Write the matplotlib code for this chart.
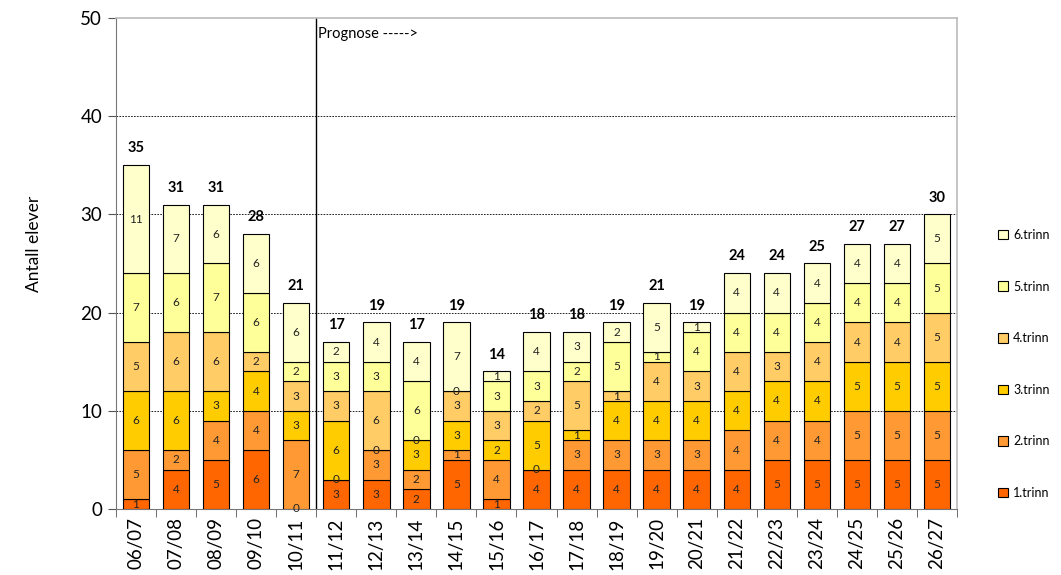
import matplotlib
matplotlib.use("Agg")
import matplotlib.pyplot as plt
import numpy as np

plt.rcParams['font.family'] = ['Lato', 'DejaVu Sans']

years = ["06/07", "07/08", "08/09", "09/10", "10/11", "11/12", "12/13", "13/14",
         "14/15", "15/16", "16/17", "17/18", "18/19", "19/20", "20/21", "21/22",
         "22/23", "23/24", "24/25", "25/26", "26/27"]
trinn1 = [1, 4, 5, 6, 0, 3, 3, 2, 5, 1, 4, 4, 4, 4, 4, 4, 5, 5, 5, 5, 5]
trinn2 = [5, 2, 4, 4, 7, 0, 3, 2, 1, 4, 0, 3, 3, 3, 3, 4, 4, 4, 5, 5, 5]
trinn3 = [6, 6, 3, 4, 3, 6, 0, 3, 3, 2, 5, 1, 4, 4, 4, 4, 4, 4, 5, 5, 5]
trinn4 = [5, 6, 6, 2, 3, 3, 6, 0, 3, 3, 2, 5, 1, 4, 3, 4, 3, 4, 4, 4, 5]
trinn5 = [7, 6, 7, 6, 2, 3, 3, 6, 0, 3, 3, 2, 5, 1, 4, 4, 4, 4, 4, 4, 5]
trinn6 = [11, 7, 6, 6, 6, 2, 4, 4, 7, 1, 4, 3, 2, 5, 1, 4, 4, 4, 4, 4, 5]
series_names = ["1.trinn", "2.trinn", "3.trinn", "4.trinn", "5.trinn", "6.trinn"]
colors = ["#FF6600", "#FF9933", "#FFCC00", "#FFCC66", "#FFFF99", "#FFFFCC"]
series = [trinn1, trinn2, trinn3, trinn4, trinn5, trinn6]

fig = plt.figure(figsize=(10.61, 5.75), dpi=100)
ax = fig.add_axes([0.1093, 0.1148, 0.7927, 0.854])

x = np.arange(len(years))
bottom = np.zeros(len(years))
handles = []
for vals, col, name in zip(series, colors, series_names):
    vals = np.array(vals, dtype=float)
    bars = ax.bar(x, vals, bottom=bottom, width=0.66, color=col,
                  edgecolor="black", linewidth=0.8, label=name, zorder=3)
    handles.append(bars)
    for xi, b, v in zip(x, bottom, vals):
        ax.text(xi, b + v / 2, f"{int(v)}", ha="center", va="center",
                fontsize=8.5, color="#222222", zorder=4)
    bottom += vals

for xi, tot in zip(x, bottom):
    ax.text(xi, tot + 1.0, f"{int(tot)}", ha="center", va="bottom",
            fontsize=10.5, fontweight="bold", color="black", zorder=4)

ax.set_xlim(-0.5, len(years) - 0.5)
ax.set_ylim(0, 50)
ax.set_yticks([0, 10, 20, 30, 40, 50])
ax.set_yticklabels(["0", "10", "20", "30", "40", "50"], fontsize=13.5)
ax.set_xticks(x)
ax.set_xticklabels(years, rotation=90, fontsize=13.5)
ax.tick_params(axis="x", length=0, pad=6)
ax.set_xticks(np.arange(-0.5, len(years), 1.0), minor=True)
ax.tick_params(axis="x", which="minor", length=6, direction="out", color="#555555")
ax.tick_params(axis="y", length=6, direction="out", color="#555555", pad=4)

for gy in [10, 20, 30, 40]:
    ax.axhline(gy, color="black", linestyle=(0, (2, 1.5)), linewidth=0.6, zorder=1)

ax.axvline(4.5, color="black", linewidth=1.0, zorder=2)
ax.text(4.55, 48.4, "Prognose ----->", ha="left", va="center", fontsize=10.5)

for side in ["top", "right"]:
    ax.spines[side].set_color("#BBBBBB")
    ax.spines[side].set_linewidth(1.2)
ax.spines["left"].set_color("#777777")
ax.spines["bottom"].set_color("#777777")

ax.set_ylabel("Antall elever", fontsize=12.5)
ax.yaxis.set_label_coords(-0.088, 0.54)

leg = fig.legend(handles[::-1], series_names[::-1], loc="center left",
                 bbox_to_anchor=(0.930, 0.367), frameon=False, fontsize=9,
                 labelspacing=3.17, handlelength=0.8, handleheight=0.8,
                 handletextpad=0.4)

fig.savefig("out.png", dpi=100)
